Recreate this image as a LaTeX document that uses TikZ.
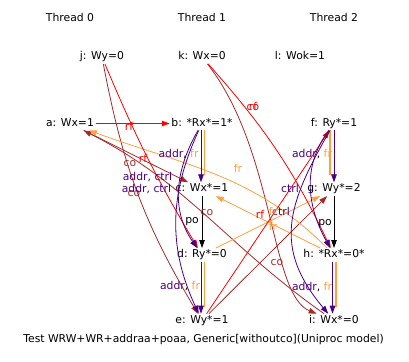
\documentclass[tikz,border=0pt]{standalone}
\usepackage{fontspec}
\setmainfont{DejaVu Sans}
\usetikzlibrary{arrows.meta}
\definecolor{rfcol}{RGB}{255,0,0}
\definecolor{cocol}{RGB}{165,42,42}
\definecolor{frcol}{RGB}{255,160,64}
\definecolor{depcol}{RGB}{75,0,130}
\tikzset{
  event/.style={inner sep=1.5pt, text height=7.9pt, text depth=2.5pt},
  lbl/.style={inner sep=0pt, text height=7.9pt, text depth=2.5pt},
  rf/.style={->, draw=rfcol, line width=0.8pt},
  co/.style={->, draw=cocol, line width=0.8pt},
  fr/.style={->, draw=frcol, line width=0.8pt},
  po/.style={->, draw=black, line width=0.8pt},
  dep/.style={->, draw=depcol, line width=0.8pt},
  frside/.style={draw=frcol, line width=1.4pt, shorten >=7pt}
}
\newcommand{\depfr}{\textcolor{depcol}{addr}, \textcolor{frcol}{fr}}
\newcommand{\depctrl}{\textcolor{depcol}{addr, ctrl}}
\begin{document}
\begin{tikzpicture}[x=1pt, y=1pt, node distance=65.7pt,
    >={Triangle[length=8pt,width=5.5pt]},
    every node/.style={font=\fontsize{10.8}{13}\selectfont}]
    \useasboundingbox (0,0) rectangle (409,-361);

    \node (thread0) at (70,-17) {Thread 0};
    \node (thread1) at (202,-17) {Thread 1};
    \node (thread2) at (334,-17) {Thread 2};

    \node[event] (j) at (102,-57) {j: Wy=0};
    \node[event] (k) at (202,-57) {k: Wx=0};
    \node[event] (l) at (300,-57) {l: Wok=1};

    \node[event] (a) at (70,-123.5) {a: Wx=1};

    \node[event] (b) at (202,-123.5) {b: *Rx*=1*};
    \node[event, below of=b] (c) {c: Wx*=1};
    \node[event, below of=c] (d) {d: Ry*=0};
    \node[event, below of=d] (e) {e: Wy*=1};

    \node[event] (f) at (334,-123.5) {f: Ry*=1};
    \node[event, below of=f] (g) {g: Wy*=2};
    \node[event, below of=g] (h) {h: *Rx*=0*};
    \node[event, below of=h] (i) {i: Wx*=0};

    \node (caption) at (203.5,-340) {Test WRW+WR+addraa+poaa, Generic[withoutco](Uniproc model)};

    % coherence
    \draw[co] (a) -- (c);
    \draw[co] (i) to[out=145, in=-27] (a);
    \draw[co] (j) to[bend right=10] (e);
    \draw[co] (e) -- (g);
    \draw[co] (k) .. controls (275,-150) and (270,-295) .. (i);

    % from-reads
    \draw[fr] (h) to[out=135, in=-20] (a);
    \draw[fr] (h) -- (c);
    \draw[fr] (d) -- (g);

    % reads-from
    \draw[rf] (a) -- (b);
    \draw[rf] (j) to[bend right=4] (d);
    \draw[rf] (k) to[bend left=8] (h);
    \draw[rf] (e) -- (f);

    % program order
    \draw[po] (c) -- (d);
    \draw[po] (g) -- (h);

    % dependencies, fr drawn alongside
    \draw[frside] ([xshift=2.5pt]b.south) -- ([xshift=2.5pt]c.north);
    \draw[dep] ([xshift=-1pt]b.south) -- ([xshift=-1pt]c.north);
    \draw[frside] ([xshift=2.5pt]d.south) -- ([xshift=2.5pt]e.north);
    \draw[dep] ([xshift=-1pt]d.south) -- ([xshift=-1pt]e.north);
    \draw[frside] ([xshift=-4pt]f.south) -- ([xshift=-4pt]g.north);
    \draw[dep] ([xshift=0pt]f.south) -- ([xshift=0pt]g.north);
    \draw[frside] ([xshift=2pt]h.south) -- ([xshift=2pt]i.north);
    \draw[dep] ([xshift=-1.5pt]h.south) -- ([xshift=-1.5pt]i.north);

    \draw[dep] (b) to[out=240, in=125] (d);
    \draw[dep] (b) to[out=245, in=115] (e);
    \draw[dep] (f) to[out=233, in=119] (h);
    \draw[dep] (f) to[out=240, in=130, looseness=1.2] (i);

    % edge labels
    \node[lbl, text=cocol] (co je) at (134,-194) {co};
    \node[lbl, text=rfcol] (rf ab) at (129,-128) {rf};
    \node[lbl, text=cocol] (co ac) at (130,-164) {co};
    \node[lbl, text=rfcol] (rf jd) at (143,-160) {rf};
    \node[lbl] (dep bd) at (147.5,-178) {\depctrl};
    \node[lbl] (dep be) at (146.5,-190) {\depctrl};
    \node[lbl] (dep bc) at (178.5,-155) {\depfr};
    \node[lbl, text=frcol] (fr ha) at (238,-170) {fr};
    \node[lbl, text=cocol] (co ki) at (253,-108) {co};
    \node[lbl, text=rfcol] (rf kh) at (253,-108) {rf};
    \node[lbl] (dep fg) at (312,-155) {\depfr};
    \node[lbl, text=depcol] (ctrl fh) at (290,-190) {ctrl};
    \node[lbl, text=rfcol] (rf ef) at (260,-216) {rf};
    \node[lbl, text=depcol] (ctrl fi) at (281,-213) {ctrl};
    \node[lbl, text=frcol] (fr dg) at (273,-213) {fr};
    \node[lbl, text=frcol] (fr hc) at (273,-228) {fr};
    \node[lbl] (po cd) at (192,-221) {po};
    \node[lbl, text=cocol] (co ia) at (207,-213) {co};
    \node[lbl] (po gh) at (325,-223) {po};
    \node[lbl, text=cocol] (co eg) at (277,-263) {co};
    \node[lbl] (dep de) at (180,-287) {\depfr};
    \node[lbl] (dep hi) at (312,-288) {\depfr};
\end{tikzpicture}
\end{document}
